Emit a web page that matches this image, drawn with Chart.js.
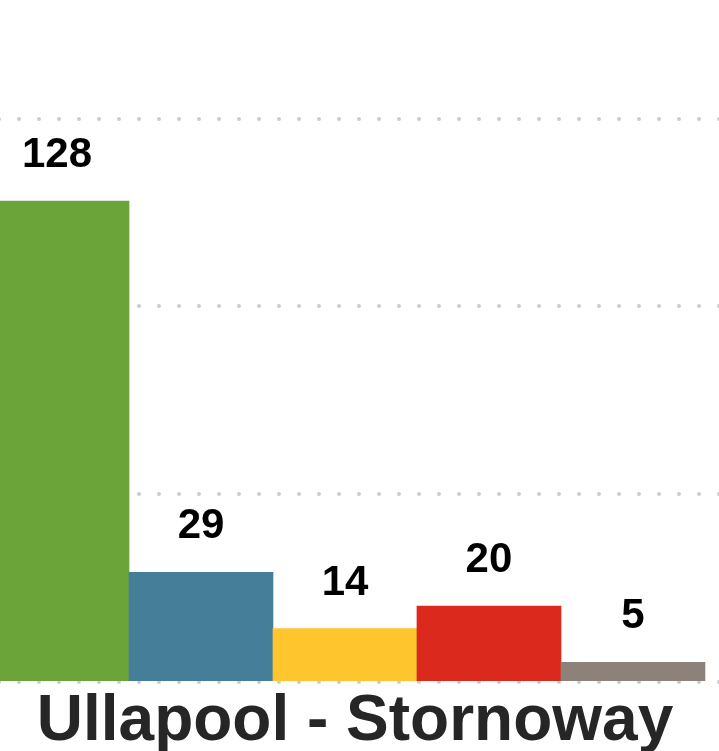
<!DOCTYPE html>
<html lang="en">
<head>
  <meta charset="UTF-8">
  <title>Ullapool - Stornoway</title>
  <script src="https://cdn.jsdelivr.net/npm/chart.js"></script>
  <style>
    html, body { margin: 0; padding: 0; background: #fff; }
    #wrap { width: 719px; height: 751px; overflow: hidden; position: relative; }
    #routeChart { display: block; }
  </style>
</head>
<body>
  <div id="wrap"><canvas id="routeChart" width="719" height="751"></canvas></div>

  <script>
    const routeName = 'Ullapool - Stornoway';
    const positions = [0, 1, 2, 3, 4];
    const values    = [128, 29, 14, 20, 5];
    const colors    = ['#6ba439', '#457e98', '#fec52d', '#db2a1d', '#8c8279'];
    const yTicks    = [0, 50, 100, 150];

    // round grey dots along each y gridline
    const dotGrid = {
      id: 'dotGrid',
      beforeDatasetsDraw(chart) {
        const {ctx, scales} = chart;
        ctx.save();
        ctx.fillStyle = '#cccccc';
        yTicks.forEach(v => {
          const y = Math.round(scales.y.getPixelForValue(v)) + (v === 0 ? 1 : 0);
          for (let x = -1; x <= chart.width + 2; x += 20) {
            ctx.beginPath();
            ctx.arc(x, y, 2, 0, Math.PI * 2);
            ctx.fill();
          }
        });
        ctx.restore();
      }
    };

    // value labels above bars
    const valueLabels = {
      id: 'valueLabels',
      afterDatasetsDraw(chart) {
        const {ctx} = chart;
        const meta = chart.getDatasetMeta(0);
        ctx.save();
        ctx.font = 'bold 42px "Liberation Sans", Arial, sans-serif';
        ctx.fillStyle = '#000';
        ctx.textAlign = 'center';
        ctx.textBaseline = 'alphabetic';
        meta.data.forEach((bar, i) => {
          ctx.fillText(String(values[i]), bar.x, bar.y - 34);
        });
        ctx.restore();
      }
    };

    new Chart(document.getElementById('routeChart'), {
      type: 'bar',
      data: {
        datasets: [{
          data: positions.map((p, i) => ({x: p, y: values[i]})),
          backgroundColor: colors,
          borderWidth: 0,
          barThickness: 144
        }]
      },
      options: {
        responsive: false,
        animation: false,
        layout: {padding: {left: 0, top: 0, bottom: 0, right: 9}},
        plugins: {legend: {display: false}, tooltip: {enabled: false}},
        scales: {
          x: {
            type: 'linear',
            offset: false,
            min: -0.396,
            max: 4.535,
            grid: {display: false},
            border: {display: false},
            ticks: {display: false},
            title: {
              display: true,
              text: routeName,
              color: '#262626',
              font: {family: '"Liberation Sans", Arial, sans-serif', size: 64, weight: 'bold', lineHeight: 1},
              padding: {top: 1, bottom: -3}
            }
          },
          y: {
            min: 0,
            max: 181.6,
            grid: {display: false},
            border: {display: false},
            ticks: {display: false, stepSize: 50},
            afterFit: s => { s.width = 0; }
          }
        }
      },
      plugins: [dotGrid, valueLabels]
    });
  </script>
</body>
</html>
